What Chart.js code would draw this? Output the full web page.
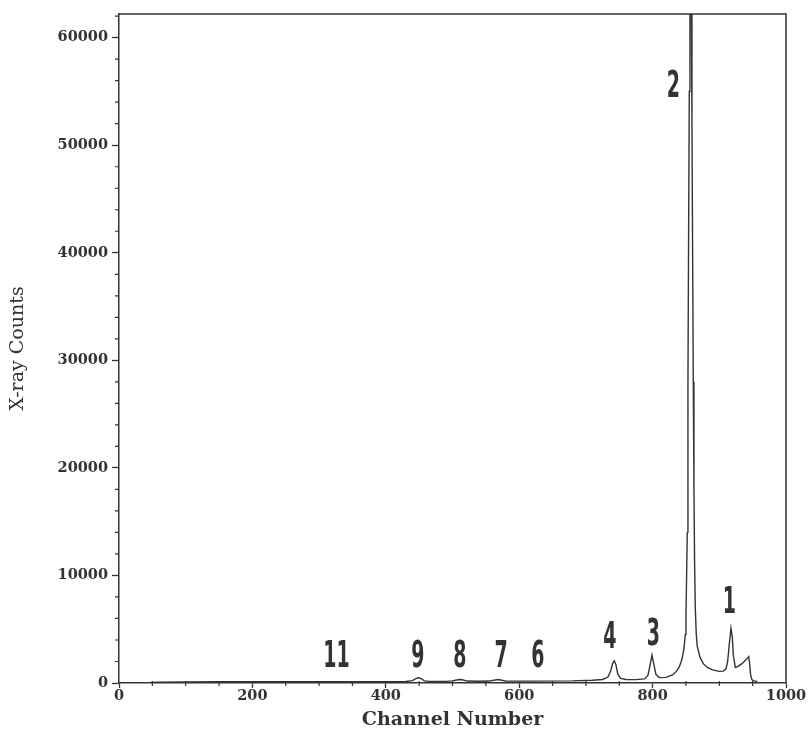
<!DOCTYPE html>
<html lang="en">
<head>
    <meta charset="UTF-8">
    <title>X-ray Counts vs Channel Number</title>
    <script src="https://cdn.jsdelivr.net/npm/chart.js"></script>
    <style>
        body {
            margin: 0;
            background-color: #fff;
        }
        canvas {
            display: block;
        }
    </style>
</head>
<body>
    <canvas id="spectrum" width="809" height="732"></canvas>

    <script>
        // spectrum: channel / counts
        const channels = [
            47, 60, 100, 150, 200, 250, 300, 350, 400, 430,
            440, 445, 449, 453, 458, 465, 490, 500, 506, 511,
            516, 522, 540, 555, 562, 568, 574, 580, 620, 680,
            710, 725, 733, 737, 740, 742.5, 745, 748, 752, 760,
            775, 788, 793, 796, 799, 802, 805, 810, 820, 830,
            836, 840, 844, 847, 849, 850, 852, 853, 854, 855,
            856, 857, 858, 859, 860, 861, 862, 863, 864, 865.5,
            867, 871, 876, 882, 890, 900, 906, 910, 912.5, 915,
            917.5, 919.5, 921, 924, 928, 934, 940, 944, 945.5, 947,
            949, 952, 957
        ];
        const counts = [
            60, 80, 100, 110, 110, 110, 120, 120, 130, 140,
            220, 400, 480, 400, 200, 150, 150, 200, 280, 320,
            280, 180, 160, 180, 260, 320, 260, 170, 170, 200,
            260, 330, 550, 1100, 1800, 2060, 1700, 800, 420, 320,
            310, 380, 700, 1600, 2600, 1700, 800, 500, 520, 750,
            1100, 1500, 2200, 3200, 4500, 6000, 14000, 28000, 42000, 55000,
            64000, 70000, 64000, 52000, 40000, 28000, 18000, 11000, 7000, 4500,
            3400, 2400, 1800, 1450, 1220, 1080, 1100, 1300, 2000, 3600,
            5100, 4300, 2600, 1450, 1550, 1800, 2150, 2450, 1800, 700,
            300, 200, 150
        ];

        // peak numbers written over the spectrum
        const peakNames = ["11", "9", "8", "7", "6", "4", "3", "2", "1"];
        const peakChannel = [326, 448, 511, 573, 628, 736, 801, 831, 915];
        const peakCount = [1500, 1500, 1500, 1500, 1500, 3250, 3530, 54500, 6540];

        const xTicks = [0, 200, 400, 600, 800, 1000];
        const yTicks = [0, 10000, 20000, 30000, 40000, 50000, 60000];

        const ink = "#333";
        const tickFont = { family: "DejaVu Serif", size: 14.5, weight: "bold" };
        const titleFont = { family: "DejaVu Serif", size: 19, weight: "bold" };

        // box, minor ticks and peak numbers
        const extras = {
            id: "extras",
            afterDraw(chart) {
                const ctx = chart.ctx;
                const area = chart.chartArea;
                const x = chart.scales.x;
                const y = chart.scales.y;

                ctx.save();
                ctx.strokeStyle = ink;
                ctx.lineWidth = 1.5;
                ctx.beginPath();
                ctx.moveTo(area.left, area.top);
                ctx.lineTo(area.right, area.top);
                ctx.lineTo(area.right, area.bottom);
                ctx.stroke();

                ctx.lineWidth = 1.2;
                ctx.beginPath();
                for (let v = 50; v < 1000; v += 50) {
                    if (v % 200 === 0) continue;
                    const px = x.getPixelForValue(v);
                    ctx.moveTo(px, area.bottom - 2);
                    ctx.lineTo(px, area.bottom + 3);
                }
                for (let v = 2000; v <= 62000; v += 2000) {
                    if (v % 10000 === 0) continue;
                    const py = y.getPixelForValue(v);
                    ctx.moveTo(area.left - 4, py);
                    ctx.lineTo(area.left, py);
                }
                ctx.stroke();

                ctx.fillStyle = ink;
                ctx.font = "bold 38px 'DejaVu Sans'";
                ctx.textAlign = "center";
                ctx.textBaseline = "alphabetic";
                peakNames.forEach((name, i) => {
                    const px = x.getPixelForValue(peakChannel[i]);
                    const py = y.getPixelForValue(peakCount[i]);
                    ctx.save();
                    ctx.translate(px, py);
                    ctx.scale(0.5, 1);
                    ctx.fillText(name, 0, 0);
                    ctx.restore();
                });
                ctx.restore();
            }
        };

        new Chart(document.getElementById("spectrum").getContext("2d"), {
            type: "line",
            data: {
                datasets: [{
                    data: channels.map((c, i) => ({ x: c, y: counts[i] })),
                    borderColor: ink,
                    borderWidth: 1.4,
                    pointRadius: 0,
                    tension: 0,
                    fill: false
                }]
            },
            options: {
                responsive: false,
                animation: false,
                layout: { padding: { left: 0, right: 23, top: 14, bottom: 0 } },
                plugins: {
                    legend: { display: false },
                    tooltip: { enabled: false }
                },
                scales: {
                    x: {
                        type: "linear",
                        min: 0,
                        max: 1000,
                        afterFit(scale) { scale.height = 49; },
                        afterBuildTicks(scale) { scale.ticks = xTicks.map(v => ({ value: v })); },
                        ticks: {
                            autoSkip: false,
                            maxRotation: 0,
                            padding: 0,
                            color: ink,
                            font: tickFont,
                            callback: v => String(v)
                        },
                        grid: { drawOnChartArea: false, tickLength: 5, tickColor: ink, tickWidth: 1.3 },
                        border: { color: ink, width: 1.5 },
                        title: {
                            display: true,
                            text: "Channel Number",
                            color: ink,
                            font: titleFont,
                            padding: { top: 0, bottom: 1 }
                        }
                    },
                    y: {
                        min: 0,
                        max: 62200,
                        afterFit(scale) { scale.width = 119; },
                        afterBuildTicks(scale) { scale.ticks = yTicks.map(v => ({ value: v })); },
                        ticks: {
                            autoSkip: false,
                            padding: 4,
                            color: ink,
                            font: tickFont,
                            callback: v => String(v)
                        },
                        grid: { drawOnChartArea: false, tickLength: 7, tickColor: ink, tickWidth: 1.3 },
                        border: { color: ink, width: 1.5 },
                        title: {
                            display: true,
                            text: "X-ray Counts",
                            color: ink,
                            font: { family: "DejaVu Serif", size: 19 },
                            padding: { top: 7, bottom: 0 }
                        }
                    }
                }
            },
            plugins: [extras]
        });
    </script>
</body>
</html>
